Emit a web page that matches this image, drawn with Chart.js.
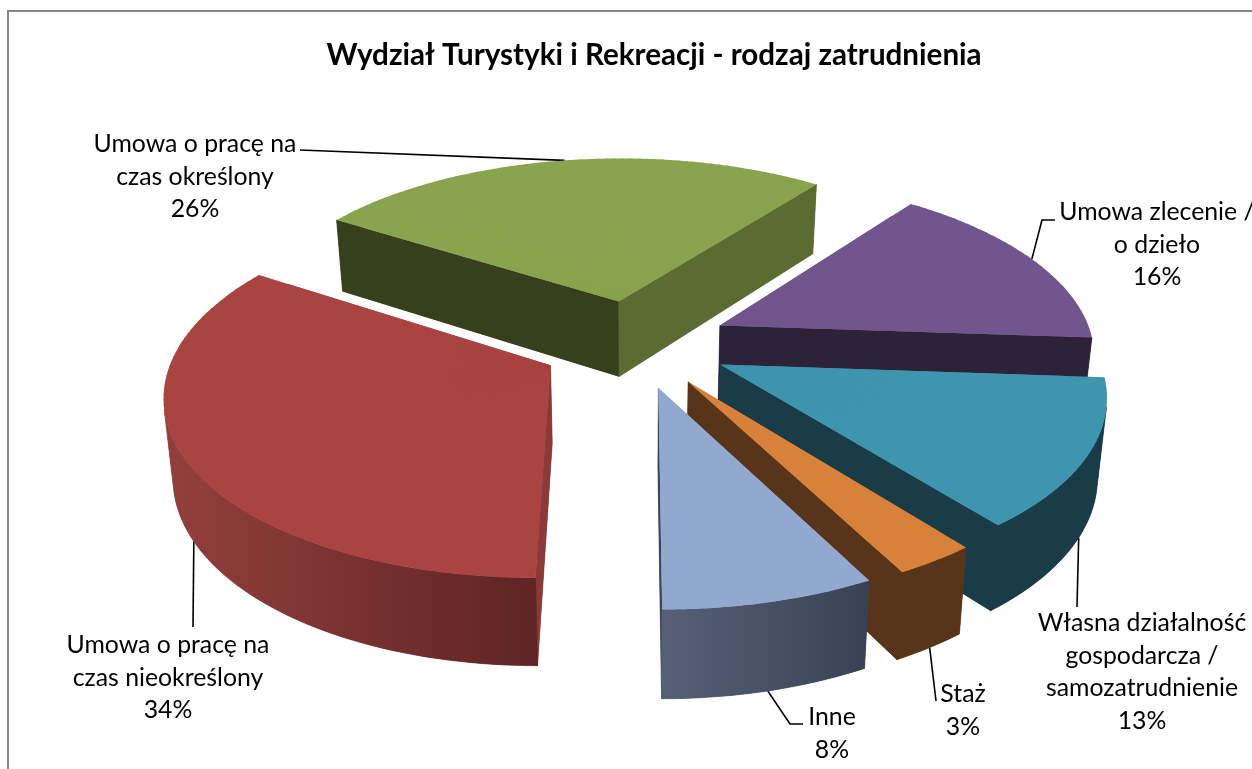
<!DOCTYPE html>
<html lang="pl"><head><meta charset="utf-8">
<style>html,body{margin:0;padding:0;background:#fff;overflow:hidden}#wrap{position:absolute;left:0;top:0;width:1252px;height:769px}</style>
<script src="https://cdn.jsdelivr.net/npm/chart.js@4/dist/chart.umd.min.js"></script>
</head><body><div id="wrap"><canvas id="c" width="1252" height="769"></canvas></div>
<script>
const titleText = 'Wydział Turystyki i Rekreacji - rodzaj zatrudnienia';
const categories = ['Inne','Umowa o pracę na czas nieokreślony','Umowa o pracę na czas określony','Umowa zlecenie / o dzieło','Własna działalność gospodarcza / samozatrudnienie','Staż'];
const values = [7.68,34,26.3,15.8,13.25,2.97];
const topColors = ['#92A8CF','#A94442','#88A44E','#71568D','#3F95AE','#D7813B'];
// wall colour at its right and left screen ends; flat colours of the two radial cuts
const wallColors = [['#384254','#566178'],['#5E2423','#93403D'],['#5B6B32','#5B6B32'],['#2D2238','#2D2238'],['#1A3C49','#1A3C49'],['#583418','#583418']];
const startCut = ['#384254','#8A3A38','#373F1D','#2D2238','#1A3C49','#583418'];
const endCut = ['#3A4454','#8A3A38','#5B6B32','#2D2238','#1A3C49','#583418'];
const labelLines = [['Inne','8%'],['Umowa o pracę na','czas nieokreślony','34%'],['Umowa o pracę na','czas określony','26%'],['Umowa zlecenie /','o dzieło','16%'],['Własna działalność','gospodarcza /','samozatrudnienie','13%'],['Staż','3%']];
const labelBox = [[832,717],[168,645],[195,144],[1157,212],[1142,623],[963,694]];
const leaderRim = ['bottom','bottom','top','top','bottom','bottom'];
const leaderPath = [[[790,724],[803,724]],[[193,627]],[[300,150]],[[1042,220],[1055,220]],[[1077,607]],[[936,701]]];
const paintOrder = [2,3,1,4,5,0];
const view = {cx:635,cy:343.5,S:374,K:175,D:6.9,E:0.253,H:77,Hexp:0.74,shrink:0.98};
const FONT = 'Lato, "Open Sans", sans-serif';

function project(X,Y,low){
  const w = 1/(1-Y/view.D);
  let x = view.cx+view.S*X*w, y = view.cy+view.K*Y*w;
  if(low){ x = view.cx+(x-view.cx)*view.shrink; y += view.H*Math.pow(w,view.Hexp); }
  return {x,y};
}
function polygon(ctx,P,col){
  ctx.beginPath();P.forEach((p,i)=>i?ctx.lineTo(p.x,p.y):ctx.moveTo(p.x,p.y));ctx.closePath();
  ctx.fillStyle=col;ctx.strokeStyle=col;ctx.lineWidth=0.6;ctx.lineJoin='round';
  ctx.fill();ctx.fill();ctx.stroke();
}
function area(P){
  let s=0;
  for(let i=0;i<P.length;i++){const p=P[i],q=P[(i+1)%P.length];s+=p.x*q.y-q.x*p.y;}
  return s;
}
function cutFace(ctx,A,B,col){
  const P=[project(A[0],A[1],false),project(B[0],B[1],false),project(B[0],B[1],true),project(A[0],A[1],true)];
  if(area(P)<0) polygon(ctx,P,col);
}
function drawLibraryArc(ctx,arc,from,to,L1,L2,P0,P1,P2){
  const det=L1[0]*L2[1]-L2[0]*L1[1];
  const ux=P1.x-P0.x,uy=P1.y-P0.y,vx=P2.x-P0.x,vy=P2.y-P0.y;
  const A=(ux*L2[1]-vx*L1[1])/det,C=(vx*L1[0]-ux*L2[0])/det;
  const B=(uy*L2[1]-vy*L1[1])/det,D=(vy*L1[0]-uy*L2[0])/det;
  ctx.save();ctx.transform(A,B,C,D,P0.x-A*arc.x-C*arc.y,P0.y-B*arc.x-D*arc.y);
  arc.startAngle=from;arc.endAngle=to;arc.circumference=to-from;
  arc.draw(ctx);
  ctx.restore();
}
function drawSlice(ctx,arc,i){
  const a0=arc.startAngle,a1=arc.endAngle,mid=(a0+a1)/2;
  const ex=view.E*Math.cos(mid),ey=view.E*Math.sin(mid);
  const n=Math.max(2,Math.ceil((a1-a0)/(Math.PI/120)));
  const da=(a1-a0)/n;
  const pts=[];
  for(let k=0;k<=n;k++){const a=a0+k*da;pts.push([ex+Math.cos(a),ey+Math.sin(a)]);}
  cutFace(ctx,[ex,ey],pts[0],startCut[i]);
  cutFace(ctx,pts[n],[ex,ey],endCut[i]);
  // outer wall: the visible run of the rim, shaded across the screen
  const up=[],low=[];
  for(let k=0;k<n;k++){
    const Q=[project(pts[k][0],pts[k][1],false),project(pts[k+1][0],pts[k+1][1],false),project(pts[k+1][0],pts[k+1][1],true),project(pts[k][0],pts[k][1],true)];
    if(area(Q)<0){ if(!up.length){up.push(Q[0]);low.push(Q[3]);} up.push(Q[1]);low.push(Q[2]); }
  }
  if(up.length){
    const xs=up.concat(low).map(p=>p.x),xMin=Math.min(...xs),xMax=Math.max(...xs);
    const g=ctx.createLinearGradient(xMax,0,xMin,0);
    g.addColorStop(0,wallColors[i][0]);g.addColorStop(1,wallColors[i][1]);
    polygon(ctx,up.concat(low.reverse()),g);
  }
  // top face: the library's own arc, under the local projection
  const saved={s:arc.startAngle,e:arc.endAngle,c:arc.circumference,o:arc.options};
  const R=arc.outerRadius,P0=project(ex,ey,false);
  const loc=a=>[R*Math.cos(a),R*Math.sin(a)];
  arc.options=Object.assign({},saved.o,{borderWidth:0,backgroundColor:topColors[i]});
  // solid underlay a little inside the rim, then thin wedges that reach the true outline
  const c=0.9;
  const mix=q=>({x:P0.x+(q.x-P0.x)*c,y:P0.y+(q.y-P0.y)*c});
  drawLibraryArc(ctx,arc,a0,a1,loc(a0),loc(a1),P0,mix(project(pts[0][0],pts[0][1],false)),mix(project(pts[n][0],pts[n][1],false)));
  for(let k=0;k<n;k++){
    const b0=a0+k*da,b1=b0+da;
    drawLibraryArc(ctx,arc,b0,k<n-1?b1+da*0.2:b1,loc(b0),loc(b1),P0,project(pts[k][0],pts[k][1],false),project(pts[k+1][0],pts[k+1][1],false));
  }
  arc.startAngle=saved.s;arc.endAngle=saved.e;arc.circumference=saved.c;arc.options=saved.o;
}
const pie3d={
  id:'pie3d',
  beforeDatasetDraw(chart,args){
    const ctx=chart.ctx,arcs=args.meta.data;
    ctx.save();
    ctx.strokeStyle='#868686';ctx.lineWidth=2;
    ctx.beginPath();ctx.moveTo(8,769);ctx.lineTo(8,11);ctx.lineTo(1252,11);ctx.stroke();
    paintOrder.forEach(i=>{
      const arc=arcs[i],mid=(arc.startAngle+arc.endAngle)/2;
      const ex=view.E*Math.cos(mid),ey=view.E*Math.sin(mid);
      const p=project(ex+Math.cos(mid),ey+Math.sin(mid),leaderRim[i]==='bottom');
      ctx.beginPath();ctx.moveTo(p.x,p.y);leaderPath[i].forEach(q=>ctx.lineTo(q[0],q[1]));
      ctx.strokeStyle='#000';ctx.lineWidth=1.6;ctx.lineJoin='miter';ctx.stroke();
    });
    paintOrder.forEach(i=>drawSlice(ctx,arcs[i],i));
    ctx.fillStyle='#000';ctx.textAlign='center';ctx.textBaseline='middle';
    ctx.font='bold 29.6px '+FONT;
    ctx.fillText(titleText,654,55);
    ctx.font='24.8px '+FONT;
    labelLines.forEach((ls,i)=>ls.forEach((s,j)=>ctx.fillText(s,labelBox[i][0],labelBox[i][1]+j*32.7)));
    ctx.restore();
    return false;
  }
};
new Chart(document.getElementById('c'),{
  type:'pie',
  data:{labels:categories,datasets:[{data:values,backgroundColor:topColors,borderWidth:0}]},
  options:{responsive:false,animation:false,rotation:152.4,
    plugins:{legend:{display:false},tooltip:{enabled:false},title:{display:false}}},
  plugins:[pie3d]
});
</script></body></html>
